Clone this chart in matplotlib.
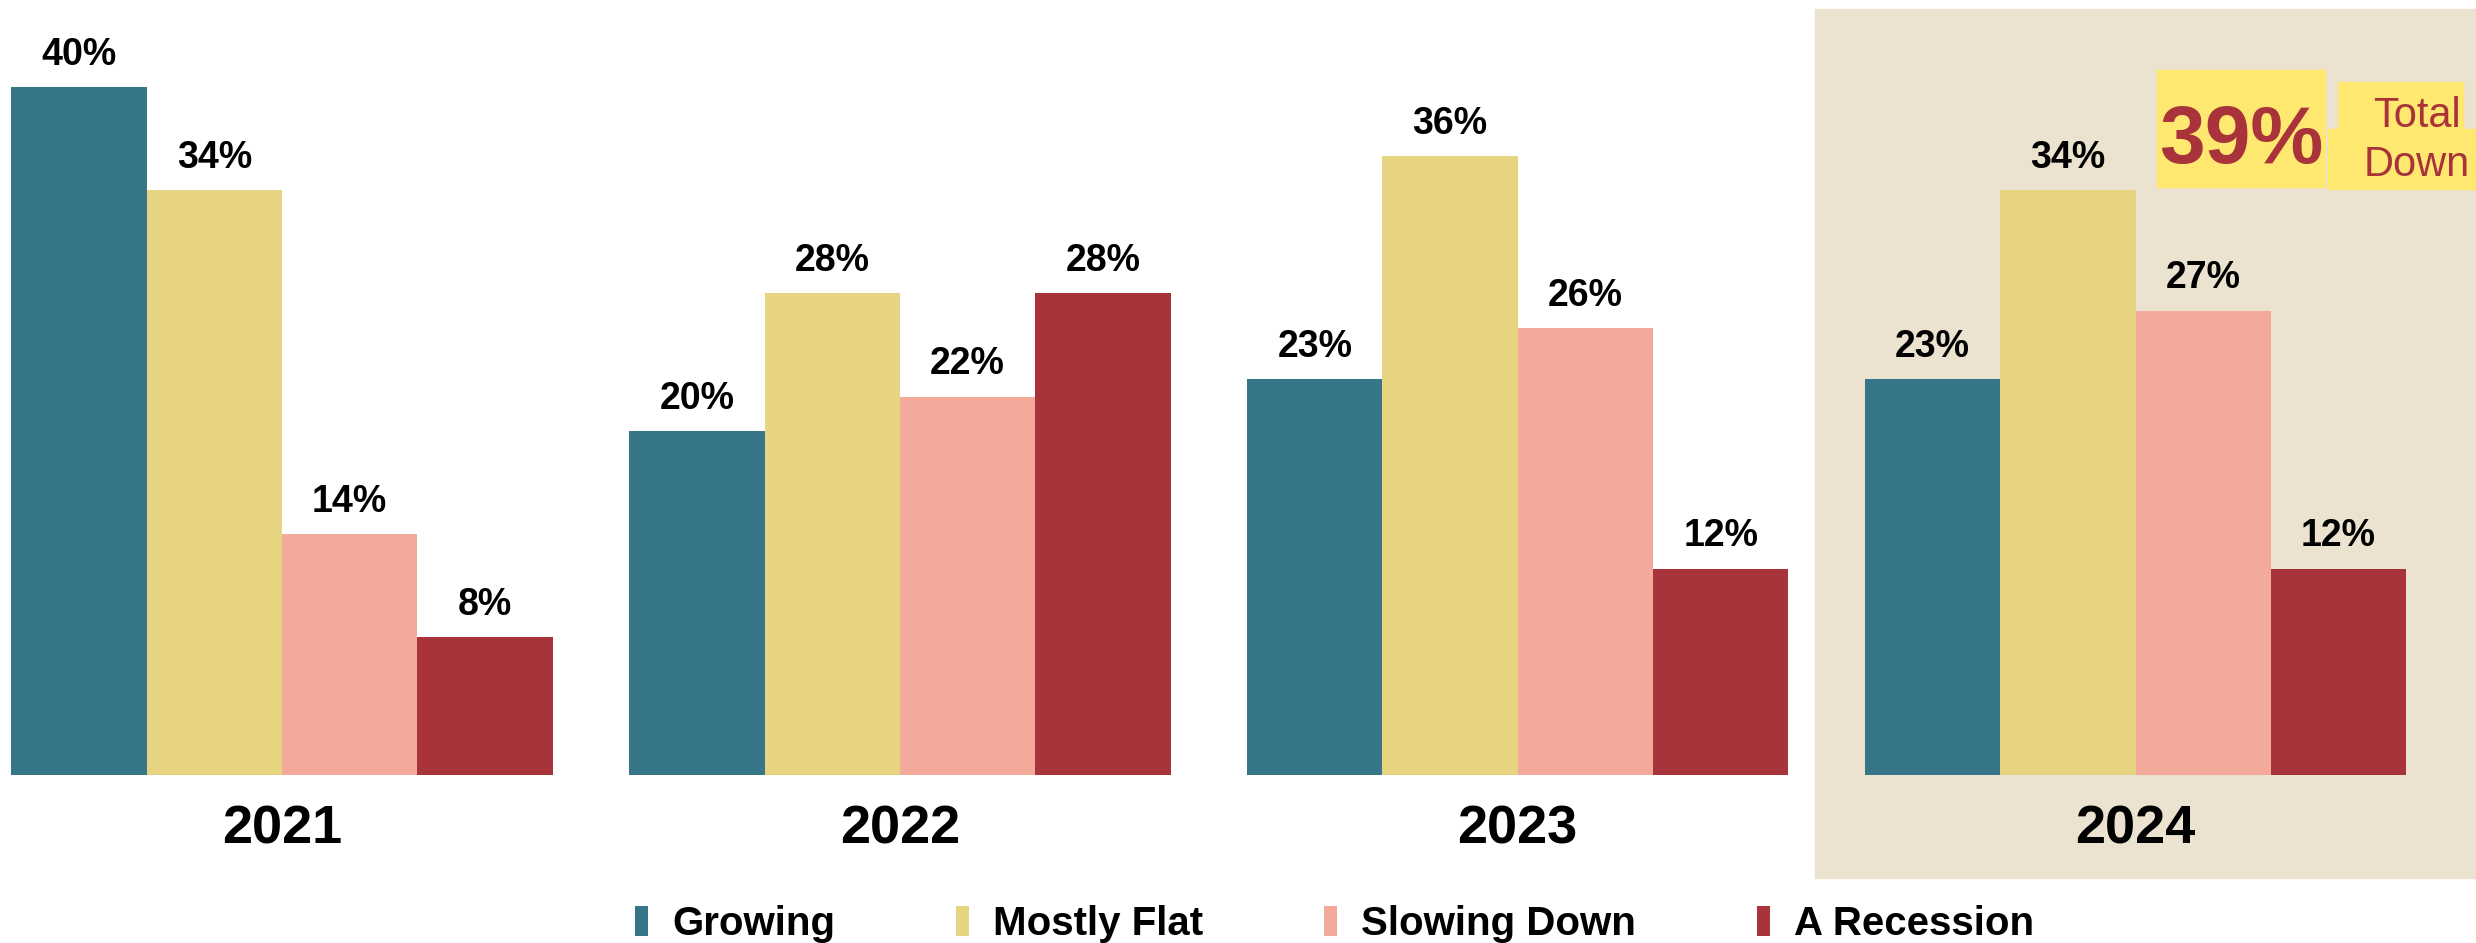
import numpy as np
import matplotlib.pyplot as plt
from matplotlib.patches import Rectangle

years = ['2021', '2022', '2023', '2024']
series = ['Growing', 'Mostly Flat', 'Slowing Down', 'A Recession']
growing = [40, 20, 23, 23]
mostly_flat = [34, 28, 36, 34]
slowing_down = [14, 22, 26, 27]
recession = [8, 28, 12, 12]
total_down = '39%'

colors = ['#377688', '#E6D481', '#F4AA9A', '#A8333A']
shade = '#EBE2D0'
hilite = '#FFE870'
red = '#A8333A'

plt.rcParams['font.family'] = ['Liberation Sans', 'DejaVu Sans']

W, H = 2476, 943
fig = plt.figure(figsize=(W / 100, H / 100), dpi=100)


def fig_rect(x0, y0, x1, y1, color, z):
    # pixel box (top-left origin) -> figure fraction rectangle
    r = Rectangle((x0 / W, 1 - y1 / H), (x1 - x0) / W, (y1 - y0) / H,
                  transform=fig.transFigure, color=color, zorder=z)
    fig.patches.append(r)


# shaded panel behind 2024
fig_rect(1815, 9, W, 878, shade, -2)

ax = fig.add_axes([0, 1 - 775 / H, 1, 775 / H])
ax.set_zorder(2)
ax.patch.set_alpha(0)

x = np.arange(len(years))
w = 0.219
vals = [growing, mostly_flat, slowing_down, recession]
for i, (name, v, c) in enumerate(zip(series, vals, colors)):
    bars = ax.bar(x + (i - 1.5) * w, v, w, color=c, label=name)
    for b, val in zip(bars, v):
        ax.annotate(f'{val}%', (b.get_x() + b.get_width() / 2, val),
                    xytext=(0, 16), textcoords='offset points',
                    ha='center', va='baseline', fontsize=27, fontweight='bold')

ax.set_xlim(-0.4565, 3.551)
ax.set_ylim(0, 45.06)
ax.set_xticks(x)
ax.set_xticklabels(years, fontsize=39, fontweight='bold')
ax.tick_params(axis='x', length=0, pad=21)
ax.set_yticks([])
for s in ax.spines.values():
    s.set_visible(False)

# callout boxes
fig_rect(2157, 70, 2325, 187, hilite, -1)
fig_rect(2338, 82, 2463, 130, hilite, -1)
fig_rect(2328, 129, W, 189, hilite, -1)
fig.text(2241 / W, 1 - 163 / H, total_down, ha='center', va='baseline', fontsize=59,
         fontweight='bold', color=red)
fig.text(2417 / W, 1 - 127 / H, 'Total', ha='center', va='baseline', fontsize=30,
         color=red)
fig.text(2417 / W, 1 - 176 / H, 'Down', ha='center', va='baseline', fontsize=30,
         color=red)

fig.legend(loc='center', bbox_to_anchor=(0.539, 19 / H), ncol=4, frameon=False,
           prop=dict(size=29, weight='bold'), handlelength=0.32, handleheight=0.8,
           handletextpad=0.6, columnspacing=3.0)

fig.savefig('out.png', dpi=100)
